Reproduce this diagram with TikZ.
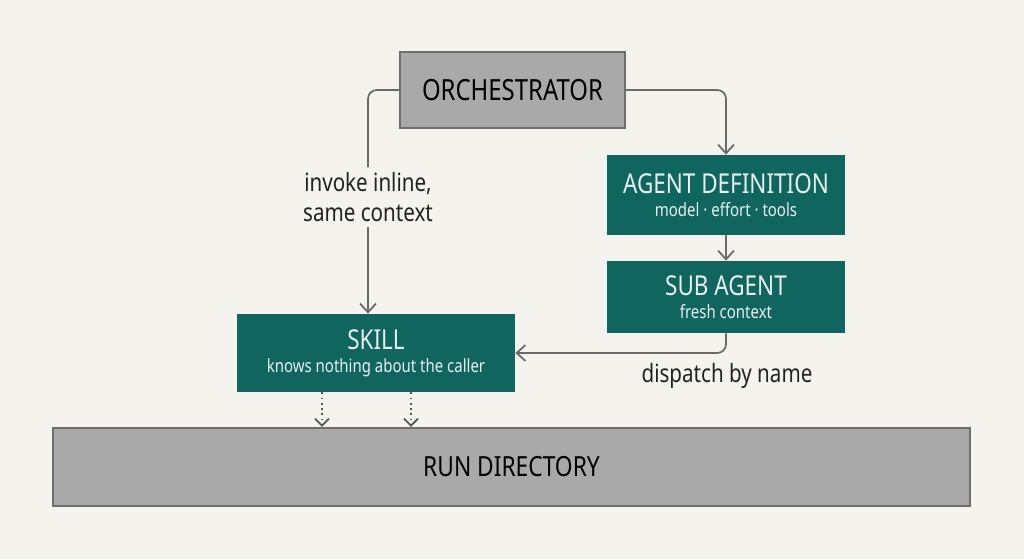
\documentclass[tikz,border=0pt]{standalone}
\usepackage{fontspec}
\setmainfont{Noto Sans}[FakeStretch=0.82]
\usetikzlibrary{positioning, arrows.meta, backgrounds}

\definecolor{paper}{HTML}{F5F3EE}
\definecolor{boxgray}{HTML}{A9A9A9}
\definecolor{boxedge}{HTML}{6E6E6E}
\definecolor{agentteal}{HTML}{10655F}
\definecolor{tealtext}{HTML}{E6F0EE}
\definecolor{linegray}{HTML}{6A6A6A}
\definecolor{labeltext}{HTML}{222222}

\newcommand{\titlefont}{\fontsize{15.6}{18}\selectfont}
\newcommand{\subfont}{\fontsize{10.4}{13}\selectfont}

\begin{document}
\begin{tikzpicture}[x=0.02cm, y=-0.02cm,
  graybox/.style={draw=boxedge, line width=1.3pt, fill=boxgray, rectangle, text=black},
  tealbox/.style={fill=agentteal, rectangle, text=tealtext, align=center, inner sep=0pt},
  link/.style={draw=linegray, line width=1pt, rounded corners=5pt, -{Straight Barb[length=5pt, width=9pt]}},
  dotlink/.style={draw=linegray!80!black, line width=1pt, dotted, -{Straight Barb[length=4pt, width=8pt]}},
  lbl/.style={text=labeltext, font=\fontsize{14.3}{17}\selectfont, align=center}]

  \fill[paper] (0,0) rectangle (1024,559);
  \useasboundingbox (0,0) rectangle (1024,559);

  \node[graybox, minimum width=4.5cm, minimum height=1.52cm, font=\fontsize{16.6}{19}\selectfont] (orch) at (512.5,90) {ORCHESTRATOR};
  \node[tealbox, minimum width=4.76cm, minimum height=1.6cm] (adef) at (726,195)
    {{\titlefont AGENT DEFINITION}\\[1pt]{\subfont model · effort · tools}};
  \node[tealbox, minimum width=4.76cm, minimum height=1.44cm] (sub) at (726,297)
    {{\titlefont SUB AGENT}\\[1pt]{\subfont fresh context}};
  \node[tealbox, minimum width=5.56cm, minimum height=1.56cm] (skill) at (376,353)
    {{\titlefont SKILL}\\[1pt]{\subfont knows nothing about the caller}};
  \node[graybox, minimum width=18.34cm, minimum height=1.56cm, font=\fontsize{15.8}{19}\selectfont] (rundir) at (511.5,467) {RUN DIRECTORY};

  % orchestrator to skill and agent definition
  \draw[link] (orch.west) -| ([xshift=-0.16cm]skill.north)
    node[lbl, pos=0.74, fill=paper, inner sep=3pt] {invoke inline,\\same context};
  \draw[link] (orch.east) -| (adef.north);
  \draw[link] (adef) -- (sub);
  \draw[link] (sub.south) |- (skill.east);
  \node[lbl] (dispatch) at (727,376) {dispatch by name};

  % skill writes into the run directory
  \coordinate (w1) at (322,0);
  \coordinate (w2) at (411,0);
  \draw[dotlink] (skill.south -| w1) -- (rundir.north -| w1);
  \draw[dotlink] (skill.south -| w2) -- (rundir.north -| w2);
\end{tikzpicture}
\end{document}
